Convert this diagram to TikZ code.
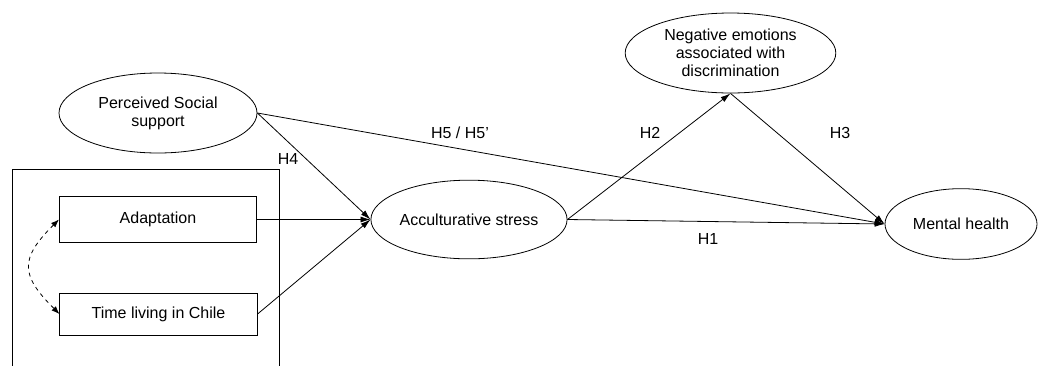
\documentclass[tikz,border=0pt]{standalone}
\usepackage{fontspec}
\setmainfont{Liberation Sans}
\usetikzlibrary{shapes.geometric,arrows.meta}
\begin{document}
\begin{tikzpicture}[
			x=0.75pt, y=-0.75pt,
			font=\fontsize{12}{13.5}\selectfont,
			every path/.style={line width=0.6pt},
			latent/.style={ellipse,draw,inner sep=0pt,align=center},
			observed/.style={rectangle,draw,inner sep=0pt,minimum width=148pt,minimum height=34pt},
			path arrow/.style={-{Latex[length=7.5pt,width=4.5pt]}},
			hyp/.style={inner sep=1pt}
		]
		\useasboundingbox (0,0) rectangle (1038,365);
		\draw (12,366) |- (279,169) -- (279,366);
		\node[observed] (adapt) at (158,219.5) {Adaptation};
		\node[observed,minimum height=31.5pt] (time) at (158.5,314) {Time living in Chile};
		\node[latent,minimum width=148.5pt,minimum height=60pt] (support) at (158,113) {Perceived Social\\support};
		\node[latent,minimum width=147pt,minimum height=59pt] (stress) at (469,219.5) {Acculturative stress};
		\node[latent,minimum width=158pt,minimum height=60pt] (emotions) at (730.5,53) {Negative emotions\\associated with\\discrimination};
		\node[latent,minimum width=114pt,minimum height=53pt] (health) at (961,224) {Mental health};
		\draw[dashed,{Latex[length=6pt,width=4.5pt]}-{Latex[length=6pt,width=4.5pt]}] (adapt.west) to[out=225,in=135,looseness=1.5] (time.west);
		\draw[path arrow] (support.east) -- (stress.west);
		\draw[path arrow] (adapt.east) -- (stress.west);
		\draw[path arrow] (time.east) -- (stress.west);
		\draw[path arrow] (support.east) -- (health.west);
		\draw[path arrow] (stress.east) -- (emotions.south);
		\draw[path arrow] (emotions.south) -- (health.west);
		\draw[path arrow] (stress.east) -- (health.west);
		\node[hyp] (h4) at (288,159) {H4};
		\node[hyp] (h5) at (460,133) {H5 / H5’};
		\node[hyp] (h2) at (650,133) {H2};
		\node[hyp] (h3) at (840,133) {H3};
		\node[hyp] (h1) at (708,239) {H1};
	\end{tikzpicture}
\end{document}
